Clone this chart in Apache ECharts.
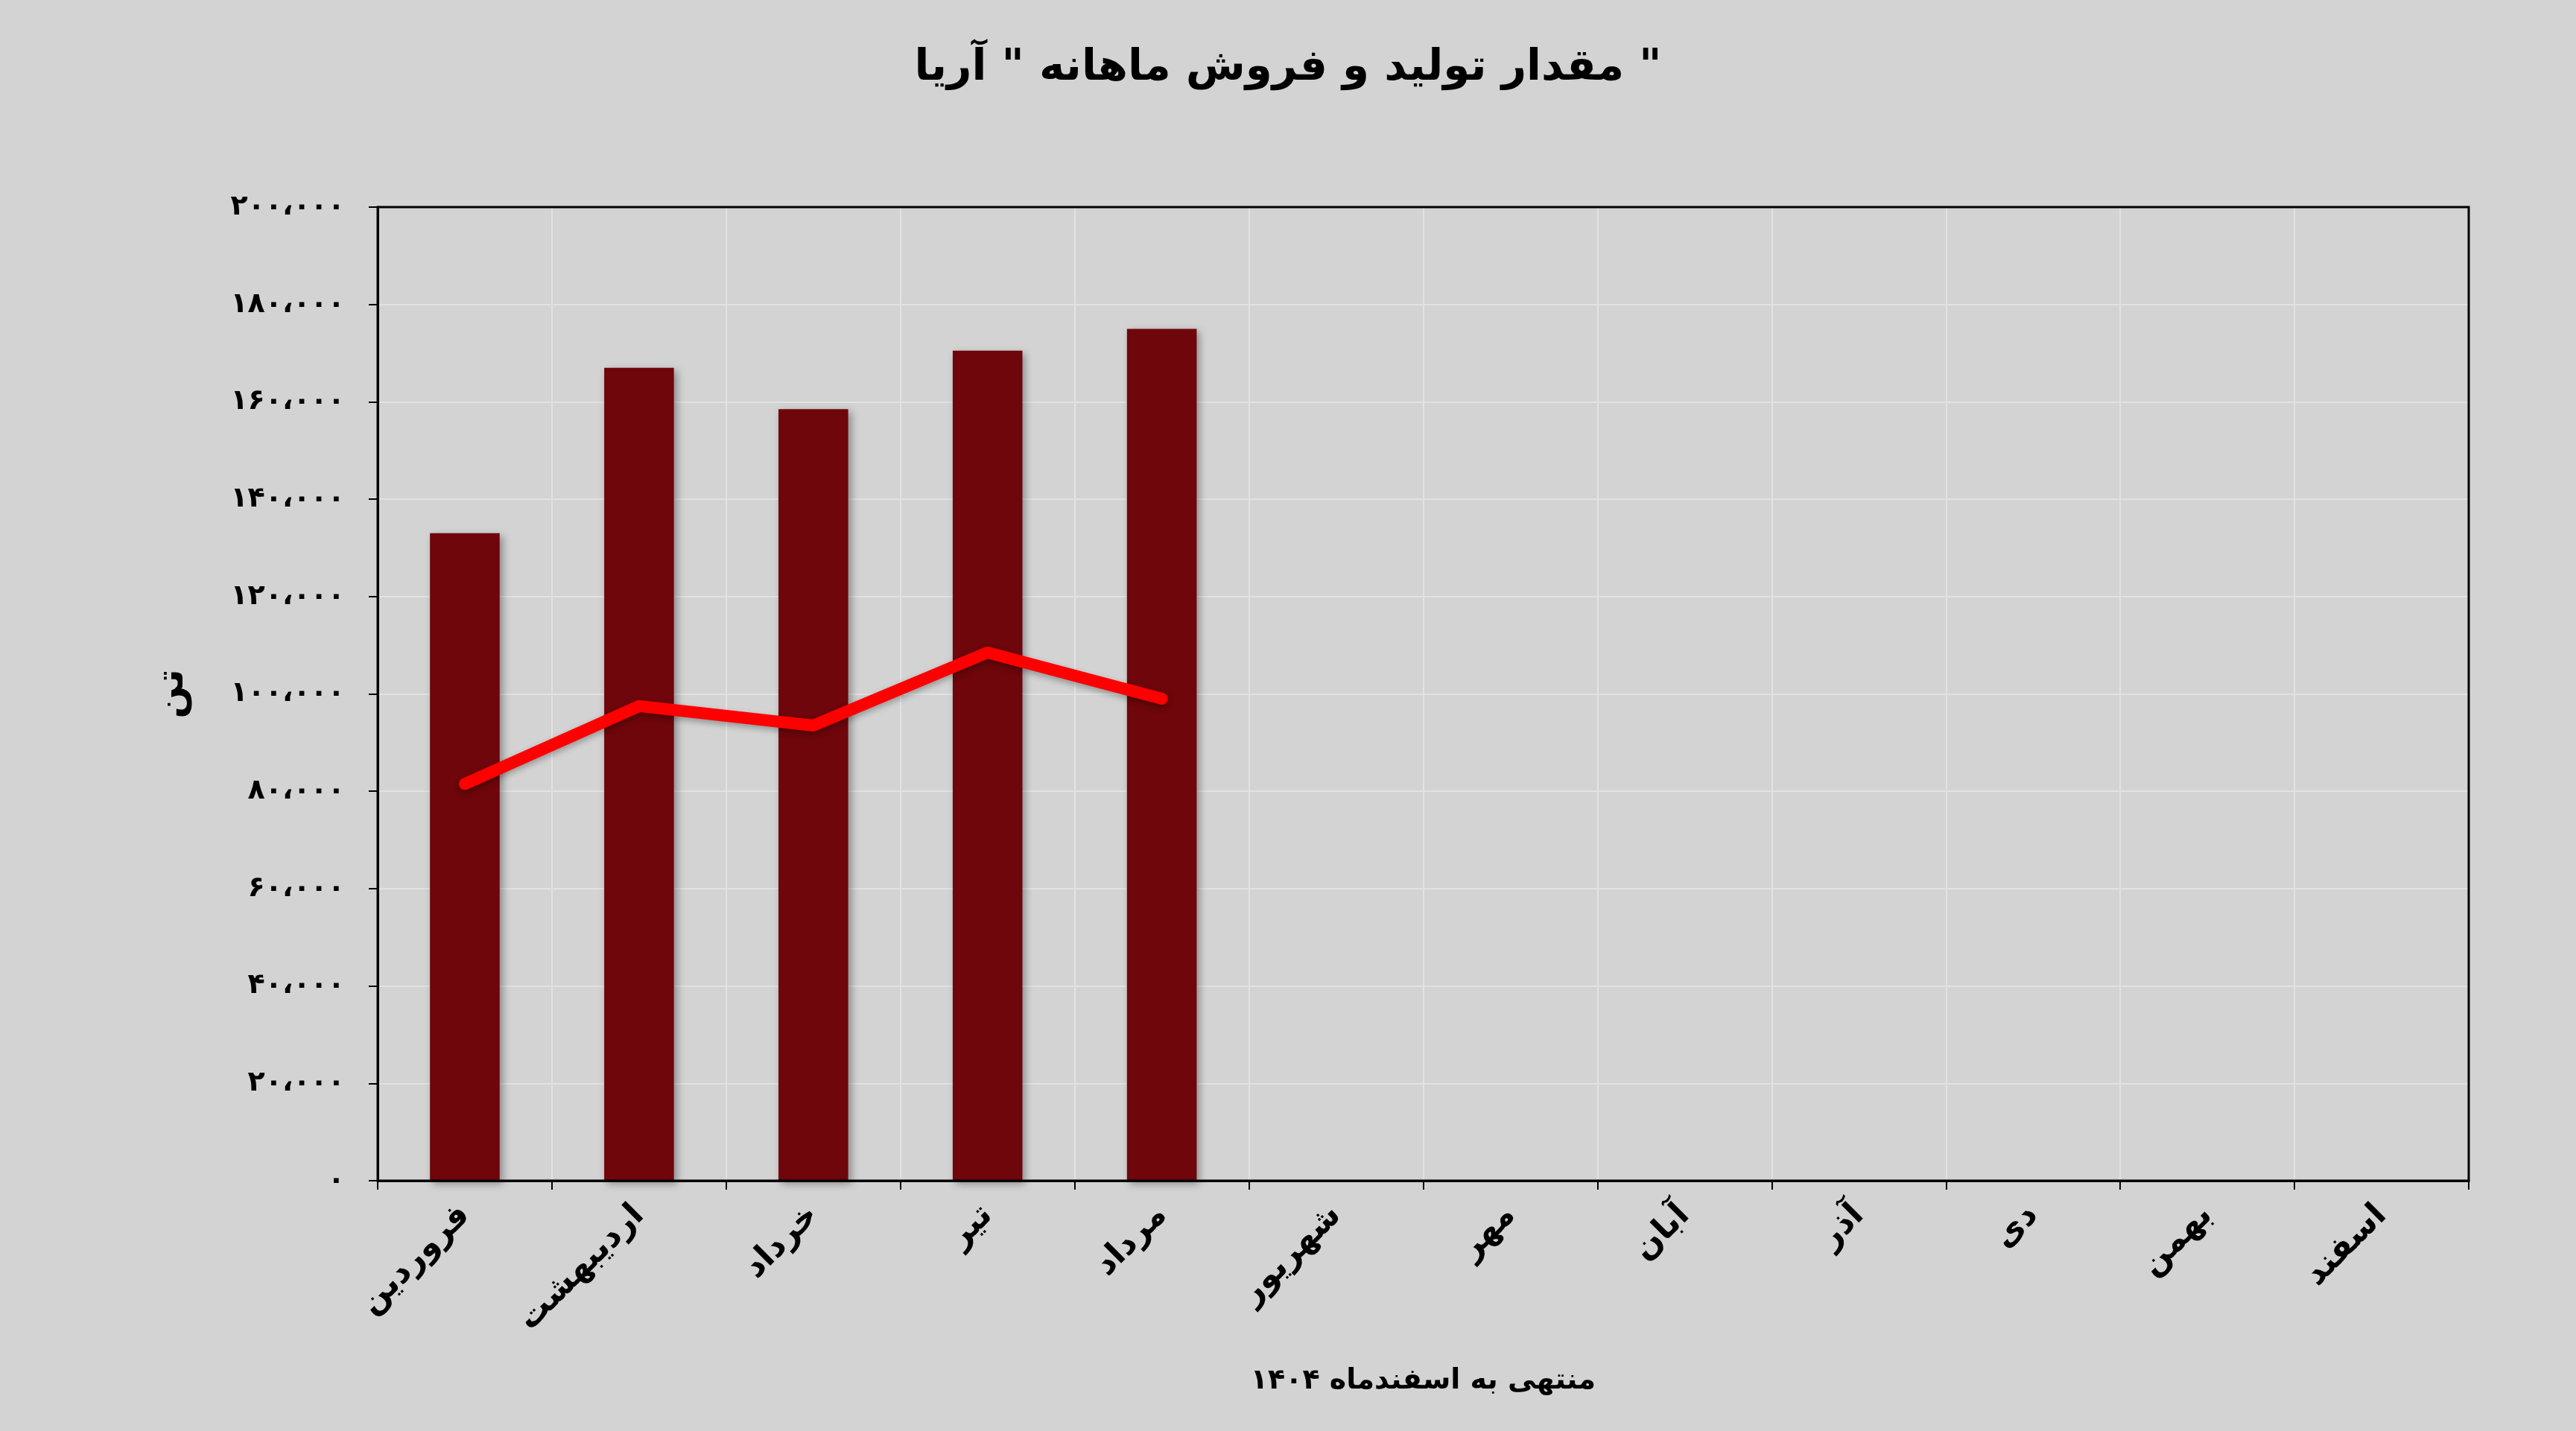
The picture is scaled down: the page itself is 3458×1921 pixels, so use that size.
<!DOCTYPE html>
<html>
<head>
<meta charset="utf-8">
<script src="https://cdn.jsdelivr.net/npm/echarts@6/dist/echarts.min.js"></script>
<style>
  html, body { margin: 0; padding: 0; background: #d3d3d3; }
  #chart { width: 3458px; height: 1921px; }
</style>
</head>
<body>
<div id="chart"></div>
<script>
// monthly data, tonnes
const months = ["فروردین", "اردیبهشت", "خرداد", "تیر", "مرداد", "شهریور", "مهر", "آبان", "آذر", "دی", "بهمن", "اسفند"];
const production = [133000, 167000, 158500, 170500, 175000, null, null, null, null, null, null, null];
const sales = [81500, 97500, 93500, 108500, 99000, null, null, null, null, null, null, null];

const FONT = "DejaVu Sans";

function toPersian(n) {
    const s = Math.round(n).toString().replace(/\B(?=(\d{3})+(?!\d))/g, "،");
    return s.replace(/\d/g, d => "۰۱۲۳۴۵۶۷۸۹"[d]);
}

const chart = echarts.init(document.getElementById("chart"), null, { renderer: "canvas" });

chart.setOption({
    backgroundColor: "#d3d3d3",
    animation: false,
    title: {
        text: 'مقدار تولید و فروش ماهانه " آریا "',
        left: "center",
        top: 58,
        textStyle: { fontFamily: FONT, fontSize: 58, fontWeight: "bold", color: "#000" },
    },
    grid: { left: 507, right: 144, top: 278, bottom: 336 },
    xAxis: {
        type: "category",
        data: months,
        name: "منتهی به اسفندماه ۱۴۰۴",
        nameLocation: "middle",
        nameGap: 250,
        nameTextStyle: { fontFamily: FONT, fontSize: 38, fontWeight: "bold", color: "#000" },
        axisLine: { lineStyle: { color: "#000", width: 3 } },
        axisTick: { show: true, alignWithLabel: false, length: 12, lineStyle: { color: "#000", width: 2 } },
        axisLabel: {
            rotate: 45,
            margin: 40,
            fontFamily: FONT,
            fontSize: 44,
            fontWeight: "bold",
            color: "#000",
        },
        splitLine: { show: true, lineStyle: { color: "#e2e2e2", width: 2 } },
    },
    yAxis: {
        type: "value",
        min: 0,
        max: 200000,
        interval: 20000,
        name: "تن",
        nameLocation: "middle",
        nameGap: 250,
        nameRotate: 90,
        nameTextStyle: { fontFamily: FONT, fontSize: 52, fontWeight: "bold", color: "#000" },
        axisLine: { show: true, lineStyle: { color: "#000", width: 3 } },
        axisTick: { show: true, length: 12, lineStyle: { color: "#000", width: 2 } },
        axisLabel: {
            margin: 44,
            fontFamily: FONT,
            fontSize: 38,
            fontWeight: "bold",
            color: "#000",
            formatter: v => toPersian(v),
        },
        splitLine: { lineStyle: { color: "#e2e2e2", width: 2 } },
    },
    graphic: [{
        type: "rect",
        shape: { x: 507, y: 278, width: 3458 - 507 - 144, height: 1921 - 278 - 336 },
        style: { fill: "none", stroke: "#000", lineWidth: 3 },
        silent: true,
        z: 100,
    }],
    series: [
        {
            name: "تولید",
            type: "bar",
            data: production,
            barWidth: "40%",
            itemStyle: {
                color: "#6e060b",
                shadowColor: "rgba(0,0,0,0.35)",
                shadowBlur: 10,
                shadowOffsetX: 4,
                shadowOffsetY: 4,
            },
        },
        {
            name: "فروش",
            type: "line",
            data: sales,
            symbol: "none",
            lineStyle: {
                color: "#ff0000",
                width: 16,
                cap: "round",
                join: "round",
                shadowColor: "rgba(0,0,0,0.3)",
                shadowBlur: 8,
                shadowOffsetY: 4,
            },
            z: 5,
        },
    ],
});
</script>
</body>
</html>
